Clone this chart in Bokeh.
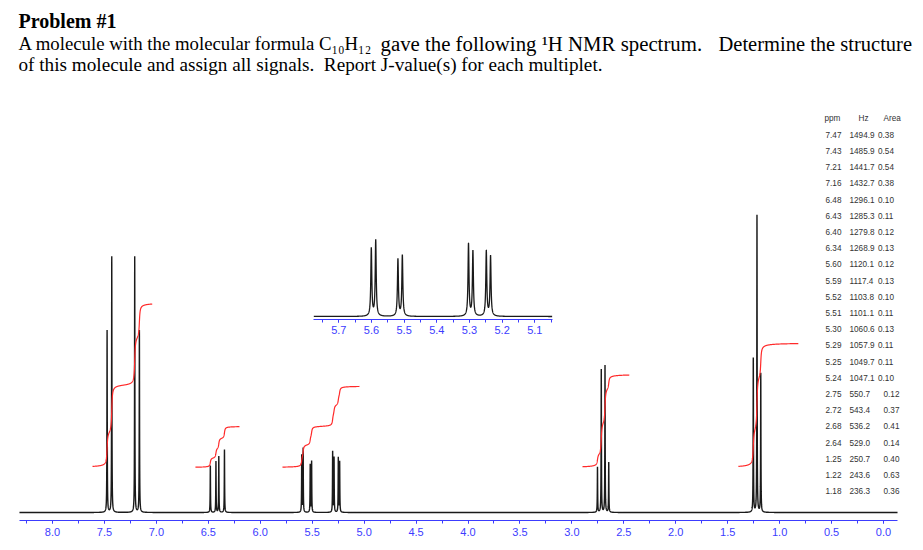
import numpy as np
from bokeh.plotting import figure
from bokeh.models import (Range1d, ColumnDataSource, LinearAxis, SingleIntervalTicker,
                          PrintfTickFormatter, Label)
from bokeh.embed import file_html
from bokeh.resources import INLINE
from bokeh.core.properties import value

# ------------------------------------------------------------------ data
peak_ppm = [7.47, 7.43, 7.21, 7.16, 6.48, 6.43, 6.40, 6.34, 5.60, 5.59, 5.52, 5.51,
            5.30, 5.29, 5.25, 5.24, 2.75, 2.72, 2.68, 2.64, 1.25, 1.22, 1.18]
peak_hz = [1494.9, 1485.9, 1441.7, 1432.7, 1296.1, 1285.3, 1279.8, 1268.9, 1120.1, 1117.4,
           1103.8, 1101.1, 1060.6, 1057.9, 1049.7, 1047.1, 550.7, 543.4, 536.2, 529.0,
           250.7, 243.6, 236.3]
peak_area = [0.38, 0.54, 0.54, 0.38, 0.10, 0.11, 0.12, 0.13, 0.12, 0.13, 0.10, 0.11,
             0.13, 0.11, 0.11, 0.10, 0.12, 0.37, 0.41, 0.14, 0.40, 0.63, 0.36]
# relative peak heights (tallest = 100)
peak_height = [61.3, 86.2, 86.2, 61.3, 15.8, 17.2, 18.9, 21.2, 19.2, 21.5, 16.1, 17.2,
               20.4, 18.4, 18.4, 17.0, 15.2, 48.1, 49.5, 16.8, 51.9, 100.0, 46.8]
spectrometer_mhz = 200.0
# integration regions (ppm)
integral_start = [7.615, 6.624, 5.786, 2.899, 1.397]
integral_end = [7.04, 6.20, 5.045, 2.447, 0.82]
spectrum_limits = (8.318, -0.135)
inset_limits = (5.7765, 5.047)
table_header = ["ppm", "Hz", "Area"]
heading_title = "Problem #1"
heading_line2 = ["A molecule with the molecular formula C\u2081\u2080H\u2081\u2082",
                 "gave the following \u00b9H NMR spectrum.",
                 "Determine the structure"]
heading_line3 = "of this molecule and assign all signals.\u00a0 Report J-value(s) for each multiplet."

# ------------------------------------------------------------------ layout
MARGIN = 0
W, H = 915, 542
X8, PX_PER_PPM = 52.0, 103.875          # page x of 8.0 ppm, px per ppm
BASE_Y, PX_PER_UNIT = 512.0, 2.97       # page y of baseline, px per intensity unit
AXIS_Y = 520.0
INSET_X57, INSET_PX_PER_PPM = 338.3, 326.7
INSET_BASE_Y, INSET_PX_PER_UNIT = 316.0, 3.536
INSET_AXIS_Y = 318.5
INT_BASE, INT_SCALE = 45.0 / PX_PER_UNIT, 89.5 / PX_PER_UNIT
BLUE = "#3c3cff"
LW_GAMMA = 0.0018      # line half width (ppm)
INT_GAMMA = 0.005

x_start = 8.0 + (X8 - MARGIN) / PX_PER_PPM
x_end = 8.0 - (MARGIN + W - X8) / PX_PER_PPM
y_start = -(MARGIN + H - BASE_Y) / PX_PER_UNIT
y_end = (BASE_Y - MARGIN) / PX_PER_UNIT
ix_start = 5.7 + (INSET_X57 - MARGIN) / INSET_PX_PER_PPM
ix_end = 5.7 - (MARGIN + W - INSET_X57) / INSET_PX_PER_PPM
iy_start = -(MARGIN + H - INSET_BASE_Y) / INSET_PX_PER_UNIT
iy_end = (INSET_BASE_Y - MARGIN) / INSET_PX_PER_UNIT

centers = np.array(peak_hz) / spectrometer_mhz
heights = np.array(peak_height)
areas = np.array(peak_area)


def spectrum(x):
    d = x[:, None] - centers[None, :]
    return (heights[None, :] * LW_GAMMA ** 2 / (d ** 2 + LW_GAMMA ** 2)).sum(axis=1)


def grid(a, b, n):
    lo, hi = min(a, b), max(a, b)
    parts = [np.linspace(lo, hi, n)]
    for c in centers:
        if lo <= c <= hi:
            parts.append(np.linspace(max(lo, c - 0.04), min(hi, c + 0.04), 241))
            parts.append(np.array([c]))
    return np.unique(np.concatenate(parts))


xm = grid(*spectrum_limits, 3000)
main_src = ColumnDataSource(dict(x=xm, y=spectrum(xm)))
xi = grid(*inset_limits, 1500)
inset_src = ColumnDataSource(dict(x=xi, y=spectrum(xi)))

int_xs, int_ys = [], []
for s, e in zip(integral_start, integral_end):
    xx = np.linspace(e, s, 600)
    sel = (centers <= s) & (centers >= e)
    yy = np.zeros_like(xx)
    for c, a in zip(centers[sel], areas[sel]):
        yy += a * (0.5 + np.arctan((c - xx) / INT_GAMMA) / np.pi)
    int_xs.append(xx)
    int_ys.append(INT_BASE + INT_SCALE * yy)

# ------------------------------------------------------------------ figure
p = figure(width=W, height=H, x_range=Range1d(x_start, x_end), y_range=Range1d(y_start, y_end),
           output_backend="svg", toolbar_location=None, min_border=0,
           x_axis_type=None, y_axis_type=None, outline_line_color=None, title=None)
p.extra_x_ranges = {"inset": Range1d(ix_start, ix_end), "px": Range1d(MARGIN, MARGIN + W)}
p.extra_y_ranges = {"inset": Range1d(iy_start, iy_end), "px": Range1d(MARGIN + H, MARGIN)}
p.background_fill_color = "white"
p.border_fill_color = "white"

p.line("x", "y", source=main_src, line_color="#1a1a1a", line_width=1.4)
p.multi_line(int_xs, int_ys, line_color="#ff2a2a", line_width=1.2)
p.line("x", "y", source=inset_src, line_color="#1a1a1a", line_width=1.3,
       x_range_name="inset", y_range_name="inset")


def style_axis(ax):
    ax.axis_line_color = BLUE
    ax.axis_line_width = 1.2
    ax.major_tick_line_color = BLUE
    ax.minor_tick_line_color = BLUE
    ax.major_tick_in = 0
    ax.major_tick_out = 3
    ax.minor_tick_in = 0
    ax.minor_tick_out = 3
    ax.major_label_text_color = BLUE
    ax.major_label_text_font = "Liberation Sans"
    ax.major_label_text_font_size = "11px"
    ax.major_label_standoff = 4


main_axis = LinearAxis(ticker=SingleIntervalTicker(interval=0.5, num_minor_ticks=2),
                       formatter=PrintfTickFormatter(format="%.1f"),
                       fixed_location=-(AXIS_Y - BASE_Y) / PX_PER_UNIT,
                       bounds=(min(spectrum_limits), max(spectrum_limits)))
style_axis(main_axis)
p.add_layout(main_axis, "below")

inset_axis = LinearAxis(x_range_name="inset",
                        ticker=SingleIntervalTicker(interval=0.1, num_minor_ticks=2),
                        formatter=PrintfTickFormatter(format="%.1f"),
                        fixed_location=(BASE_Y - INSET_AXIS_Y) / PX_PER_UNIT,
                        bounds=(min(inset_limits), max(inset_limits)))
style_axis(inset_axis)
p.add_layout(inset_axis, "below")

# peak table
row_y = [134.2 + 16.2 * i for i in range(len(peak_ppm))]
table_font = value("Liberation Sans")
tsize = "8.2px"
tcolor = "#333333"
tkw = dict(x_range_name="px", y_range_name="px", text_font=table_font, text_font_size=tsize,
           text_color=tcolor, text_baseline="middle")
p.text(x=[824, 858, 883], y=[118] * 3, text=table_header, **tkw)
p.text(x=[825] * len(peak_ppm), y=row_y, text=[f"{v:.2f}" for v in peak_ppm], **tkw)
p.text(x=[849] * len(peak_hz), y=row_y, text=[f"{v:.1f}" for v in peak_hz], **tkw)
p.text(x=[877.5 if h >= 1000 else 883 for h in peak_hz], y=row_y,
       text=[f"{v:.2f}" for v in peak_area], **tkw)

# heading text
lab = dict(x_range_name="px", y_range_name="px", text_font="Liberation Serif",
           text_color="black", text_baseline="alphabetic")
p.add_layout(Label(x=18, y=20, text=heading_title, text_font_size="20px",
                   text_font_style="bold", **lab))
for txt, xx, fs in zip(heading_line2, [18, 380, 718], ["18.8px", "20.8px", "20.5px"]):
    p.add_layout(Label(x=xx, y=43, text=txt, text_font_size=fs, **lab))
p.add_layout(Label(x=18, y=64, text=heading_line3, text_font_size="19.2px", **lab))

open("out.html", "w").write(file_html(p, INLINE))
